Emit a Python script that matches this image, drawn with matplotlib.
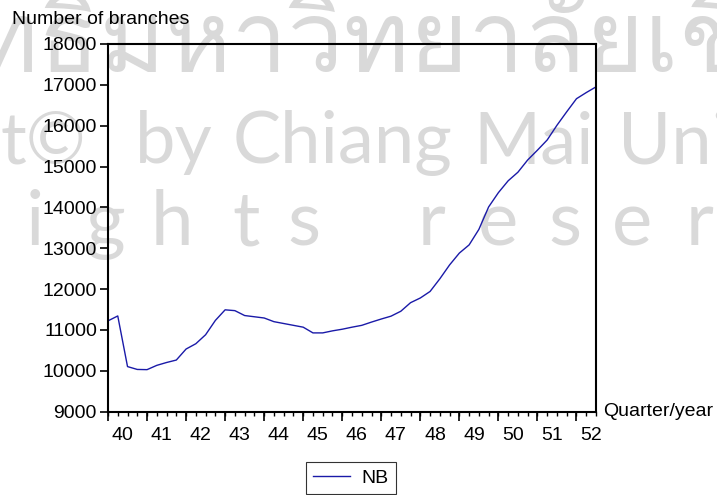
import numpy as np
import matplotlib.pyplot as plt
from matplotlib import font_manager
from matplotlib.ft2font import FT2Font

# number of branches, quarterly, 40Q1 .. 52Q3
nb = [11220, 11340, 10100, 10030, 10025, 10130, 10200, 10260,
      10530, 10660, 10880, 11230, 11490, 11470, 11350, 11320,
      11290, 11200, 11155, 11110, 11065, 10925, 10925, 10975,
      11015, 11065, 11110, 11190, 11265, 11335, 11455, 11665,
      11780, 11940, 12250, 12590, 12880, 13080, 13460, 14010,
      14360, 14650, 14860, 15160, 15400, 15650, 16010, 16340,
      16660, 16810, 16950]
years = ['40', '41', '42', '43', '44', '45', '46',
         '47', '48', '49', '50', '51', '52']
yticks = [9000, 10000, 11000, 12000, 13000, 14000, 15000, 16000, 17000, 18000]

plt.rcParams['font.family'] = ['Liberation Sans', 'DejaVu Sans']

W, H = 717, 495
fig = plt.figure(figsize=(W / 100, H / 100), dpi=100)

# watermark (background text)
wm = '#d9d9d9'
thai_font = None
for f in font_manager.fontManager.ttflist:
    try:
        if 0x0E21 in FT2Font(f.fname).get_charmap():
            thai_font = f.name
            break
    except Exception:
        pass
if thai_font:
    fig.text(-217 / W, 1 - 72 / H, 'ลิขสิทธิ์มหาวิทยาลัยเชียงใหม่', family=thai_font,
             fontsize=72, color=wm, ha='left', va='baseline', zorder=-1)
for s, x in [('t©', 0), ('by', 135), ('Chiang', 233), ('Mai', 473), ('Uni', 618)]:
    fig.text(x / W, 1 - 163 / H, s, family='Lato', fontsize=52, color=wm,
             ha='left', va='baseline', zorder=-1)
for s, x in [('i', 35), ('g', 105), ('h', 172), ('t', 246), ('s', 304),
             ('r', 432), ('e', 498), ('s', 565), ('e', 632), ('r', 700)]:
    fig.text(x / W, 1 - 245 / H, s, family='Lato', fontsize=55, color=wm,
             ha='center', va='baseline', zorder=-1)

ax = fig.add_axes([108 / W, 1 - 411.5 / H, 488 / W, 367.5 / H])
ax.set_facecolor('none')

q = np.arange(len(nb))
ax.plot(q, nb, color='#1a1aa8', lw=1.0, label='NB')

ax.set_xlim(0, len(nb) - 1)
ax.set_ylim(9000, 18000)
ax.set_yticks(yticks)
ax.tick_params(axis='y', length=6, width=1.2, pad=2, labelsize=14)

# year labels sit mid-year, quarter ticks small, year ticks long
ax.set_xticks(np.arange(1.5, len(nb), 4), labels=years)
ax.set_xticks(q, minor=True)
ax.tick_params(axis='x', which='major', length=0, pad=11, labelsize=14)
ax.tick_params(axis='x', which='minor', length=3, width=1.0)
sec = ax.secondary_xaxis('bottom')
sec.set_xticks(np.arange(0, len(nb), 4))
sec.tick_params(length=6.5, width=1.2, labelbottom=False)
sec.spines['bottom'].set_visible(False)

for sp in ax.spines.values():
    sp.set_linewidth(1.5)

fig.text(12 / W, 1 - 19 / H, 'Number of branches', fontsize=14, va='center', ha='left')
fig.text(603 / W, 1 - 412 / H, 'Quarter/year', fontsize=14, va='center', ha='left')

leg = fig.legend(loc='center', bbox_to_anchor=(351 / W, 1 - 478 / H), fontsize=14,
                 frameon=True, fancybox=False, edgecolor='black', handlelength=1.9,
                 handletextpad=0.6, borderpad=0.35, borderaxespad=0)
leg.get_frame().set_linewidth(0.8)

fig.savefig('out.png', dpi=100)
